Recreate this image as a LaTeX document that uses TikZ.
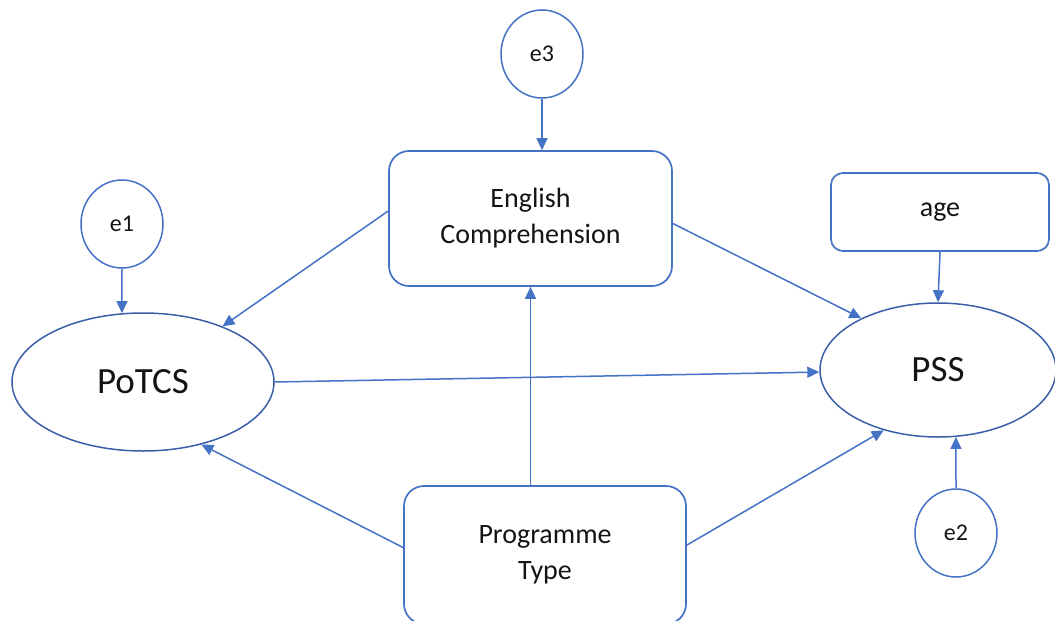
\documentclass[tikz,border=0pt]{standalone}
\usepackage{fontspec}
\setmainfont{Carlito}
\usetikzlibrary{shapes.geometric,arrows.meta}
\definecolor{linkblue}{HTML}{4472C4}
\definecolor{ovalblue}{HTML}{3A5FA8}
\definecolor{inkgrey}{HTML}{141414}
\begin{document}
\begin{tikzpicture}[x=1pt,y=-1pt,
  every node/.style={text=inkgrey},
  factor/.style={ellipse, draw=ovalblue, line width=1.5pt, inner sep=0pt,
    font=\fontsize{37}{40}\selectfont},
  errterm/.style={ellipse, draw=linkblue, line width=1.5pt, minimum width=82pt,
    minimum height=88pt, inner sep=0pt, font=\fontsize{24}{28}\selectfont},
  varbox/.style={rectangle, rounded corners=20pt, draw=linkblue, line width=1.7pt,
    align=center, inner sep=0pt, font=\fontsize{28}{36}\selectfont},
  link/.style={draw=linkblue, line width=1.5pt, -{Triangle[length=12pt,width=11pt]}}
]
\useasboundingbox (0,0) rectangle (1055,621);

% latent factors
\node[factor, minimum width=262pt, minimum height=138pt] (potcs) at (143,382) {PoTCS};
\node[factor, minimum width=236pt, minimum height=134pt] (pss) at (938,370) {PSS};

% observed variables
\node[varbox, minimum width=283pt, minimum height=135pt] (ec) at (530.5,218.5) {English\\Comprehension};
\node[varbox, minimum width=282pt, minimum height=138pt] (pt) at (545,555) {Programme\\Type};
\node[varbox, rounded corners=12pt, minimum width=218pt, minimum height=78pt] (age) at (940,212) {age};

% error terms
\node[errterm] (e1) at (122,224) {e1};
\node[errterm] (e2) at (956,533) {e2};
\node[errterm] (e3) at (542,54) {e3};

% paths
\draw[link] (e3.south) -- (e3.south |- ec.north);
\draw[link] (e1.south) -- (potcs.107);
\draw[link] (ec.177) -- (potcs.35);
\draw[link] (ec.358) -- (pss.146);
\draw[link] (potcs.east) -- (pss.181);
\draw[link] (ec.south |- pt.north) -- (ec.south);
\draw[link] (pt.177) -- (potcs.-47);
\draw[link] (pt.4) -- (pss.228);
\draw[link] (age.south) -- (pss.north);
\draw[link] (e2.north) -- (pss.-75);
\end{tikzpicture}
\end{document}
